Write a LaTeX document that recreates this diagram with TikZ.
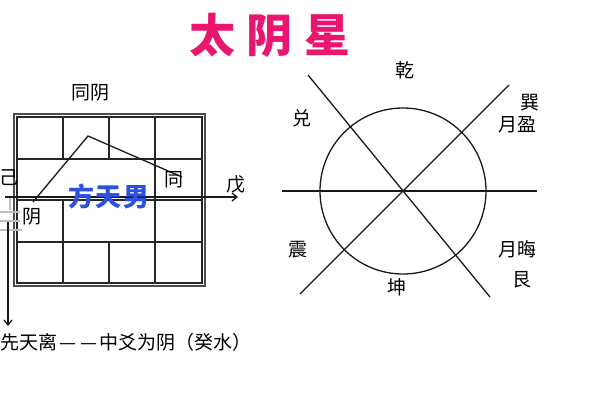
\documentclass[tikz,border=0pt]{standalone}
\usepackage{fontspec}
\newfontfamily\cjk{Noto Sans CJK SC}
\usetikzlibrary{arrows.meta,positioning}
\definecolor{titlepink}{RGB}{232,22,110}
\definecolor{nameblue}{RGB}{45,80,225}
\tikzset{
	lbl/.style={font=\cjk\fontsize{19}{19}\selectfont, inner sep=0pt},
	gridline/.style={line width=1.1pt, black!85},
	wire/.style={line width=1.3pt, black!90},
}

\begin{document}
\begin{tikzpicture}[x=1pt, y=-1pt, >={Straight Barb[length=5pt,width=8pt]}]
	\useasboundingbox (0,0) rectangle (600,400);
	\node[font=\cjk\bfseries\fontsize{46}{46}\selectfont, text=titlepink, inner sep=0pt] (title) at (270,35) {太\hspace{12pt}阴\hspace{12pt}星};
	% room plan
	\draw[line width=1.6pt, black!70] (14,114) rectangle (205,286);
	\draw[gridline] (17,117) rectangle (202,283);
	\draw[gridline] (17,159) -- (202,159) (17,200) -- (202,200) (17,242) -- (202,242);
	\foreach \x in {63,109}
		\draw[gridline] (\x,117) -- (\x,159) (\x,242) -- (\x,283);
	\draw[gridline] (63,200) -- (63,242);
	\draw[gridline] (155,117) -- (155,283);
	% faded marks on the left
	\draw[black!25, line width=1.5pt] (0,212) -- (20,212) (0,221) -- (20,221) (0,230) -- (22,230) (10,198) -- (10,210);
	\coordinate (yin) at (33,202);
	\coordinate (peak) at (88,136);
	\coordinate (tong) at (182,177);
	\draw[wire] (yin) -- (peak) -- (tong);
	\coordinate (west) at (5,197);
	\coordinate (east) at (238,197);
	\draw[wire,->] (west) -- (east);
	\coordinate (down) at (8,222);
	\coordinate (li) at (8,326);
	\draw[wire,->] (down) -- (li);
	\node[lbl] (tongyin) at (90,93) {同阴};
	\node[lbl] (ji) at (9,178) {己};
	\node[lbl] (wu) at (236,184) {戊};
	\node[lbl] (yinlbl) at (32,217) {阴};
	\node[lbl] (tonglbl) at (174,180) {同};
	\node[font=\cjk\bfseries\fontsize{26}{26}\selectfont, text=nameblue, inner sep=0pt] (fang) at (109,196) {方\hspace{2pt}天\hspace{2pt}男};
	\node[font=\cjk\fontsize{19}{19}\selectfont, inner sep=0pt, anchor=west] (note) at (0,342) {先天离\hspace{2pt}—\hspace{4pt}—\hspace{2pt}中爻为阴（癸水）};
	% moon circle
	\coordinate (c) at (403,191);
	\draw[wire] (c) circle (83);
	\coordinate (w) at (282,191);
	\coordinate (e) at (537,191);
	\coordinate (nw) at (308,75);
	\coordinate (se) at (490,297);
	\coordinate (ne) at (509,85);
	\coordinate (sw) at (300,294);
	\draw[wire] (w) -- (e);
	\draw[wire] (nw) -- (se);
	\draw[wire] (ne) -- (sw);
	\node[lbl] (qian) at (405,70) {乾};
	\node[lbl] (dui) at (302,118) {兑};
	\node[lbl] (xun) at (530,103) {巽};
	\node[lbl] (ying) at (517,125) {月盈};
	\node[lbl] (zhen) at (298,250) {震};
	\node[lbl] (hui) at (517,249) {月晦};
	\node[lbl] (gen) at (522,280) {艮};
	\node[lbl] (kun) at (397,287) {坤};
\end{tikzpicture}
\end{document}
